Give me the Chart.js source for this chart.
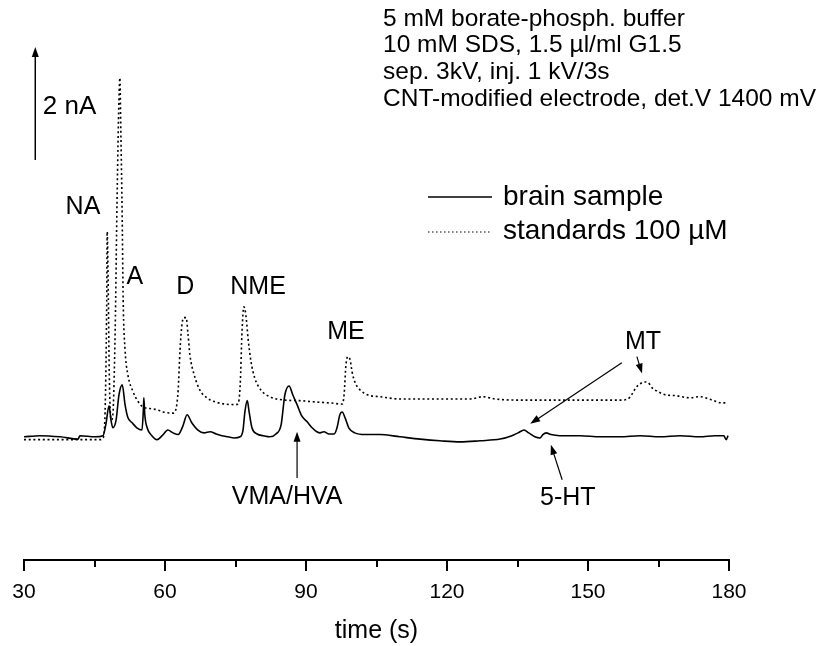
<!DOCTYPE html>
<html>
<head>
<meta charset="utf-8">
<script src="https://cdn.jsdelivr.net/npm/chart.js@4/dist/chart.umd.min.js"></script>
<style>
  body { margin: 0; background: #fff; }
  #wrap { width: 822px; height: 646px; }
</style>
</head>
<body>
<div id="wrap"><canvas id="ceChart" width="822" height="646"></canvas></div>
<script>
// migration time (s) and detector current (nA, brain baseline = 0)
const brainTime = [30.0, 33.4, 37.7, 41.5, 41.9, 45.1, 46.8, 47.4, 48.1, 48.5, 48.9, 49.6, 50.2, 50.9, 51.5, 52.1, 53.0, 54.0, 55.1, 55.4, 55.5, 55.7, 56.2, 57.2, 58.3, 59.4, 60.6, 61.7, 62.8, 63.8, 64.7, 65.7, 67.0, 68.3, 69.6, 70.9, 72.1, 73.4, 74.7, 76.0, 76.6, 77.0, 77.5, 77.9, 78.5, 79.6, 80.9, 82.3, 83.6, 84.7, 85.5, 86.4, 87.2, 88.1, 89.1, 90.2, 91.3, 92.3, 93.0, 93.8, 94.9, 96.0, 96.6, 97.2, 97.7, 98.3, 99.1, 100.4, 102.6, 105.7, 110.0, 114.3, 118.5, 122.8, 127.0, 131.3, 133.8, 135.1, 136.4, 137.4, 138.7, 139.8, 140.4, 141.1, 142.1, 144.0, 148.3, 152.6, 156.8, 161.1, 165.3, 169.6, 173.8, 177.0, 178.9, 179.4, 179.8];
const brainSignal = [0, 0.02, 0, -0.04, 0.02, 0, 0.02, 0.21, 0.55, 0.30, 0.16, 0.30, 0.74, 0.92, 0.57, 0.34, 0.25, 0.16, 0.12, 0.48, 0.69, 0.39, 0.16, 0.02, -0.05, 0.02, 0.12, 0.07, 0.04, 0.19, 0.39, 0.25, 0.12, 0.07, 0.09, 0.05, 0.02, 0, -0.02, 0, 0.12, 0.44, 0.64, 0.44, 0.16, 0.05, 0.02, 0, 0.05, 0.21, 0.74, 0.90, 0.74, 0.57, 0.37, 0.27, 0.16, 0.09, 0.07, 0.09, 0.05, 0.05, 0.16, 0.39, 0.44, 0.34, 0.16, 0.07, 0.04, 0.04, 0, -0.04, -0.07, -0.09, -0.07, -0.04, 0.02, 0.07, 0.12, 0.07, 0, -0.02, 0.04, 0.07, 0.04, 0.02, 0.02, 0, 0, 0.02, 0, 0.02, 0, 0.02, 0.02, -0.05, 0.02];

const stdTime = [30.0, 37.7, 46.2, 46.8, 47.2, 47.6, 47.7, 47.9, 48.1, 48.3, 48.6, 48.9, 49.4, 49.8, 50.2, 50.4, 50.6, 50.9, 51.1, 51.5, 52.1, 53.2, 54.3, 55.3, 56.8, 58.3, 59.6, 61.7, 62.3, 62.8, 63.2, 63.6, 64.0, 64.5, 64.9, 65.3, 66.2, 67.4, 68.9, 70.6, 72.8, 74.9, 75.5, 76.0, 76.4, 76.8, 77.2, 77.7, 78.3, 79.1, 80.4, 82.3, 85.5, 88.7, 91.5, 95.1, 97.7, 98.1, 98.5, 98.9, 99.4, 99.8, 100.4, 101.5, 103.2, 105.7, 110.0, 114.3, 120.6, 124.9, 127.7, 130.2, 135.5, 144.0, 150.4, 156.8, 158.5, 159.4, 160.2, 161.1, 162.1, 162.8, 163.6, 164.9, 166.6, 168.5, 171.7, 173.8, 176.4, 178.5, 179.8];
const stdSignal = [-0.05, -0.05, -0.05, -0.02, 0.30, 2.42, 3.63, 2.78, 1.36, 0.57, 0.30, 0.39, 1.89, 4.19, 5.96, 6.35, 5.43, 3.84, 2.42, 1.54, 1.10, 0.80, 0.62, 0.53, 0.50, 0.48, 0.44, 0.42, 0.48, 0.83, 1.54, 1.98, 2.11, 2.11, 1.81, 1.45, 1.10, 0.83, 0.69, 0.62, 0.58, 0.57, 0.58, 0.92, 1.89, 2.30, 2.16, 1.72, 1.33, 1.04, 0.83, 0.71, 0.65, 0.64, 0.62, 0.60, 0.58, 0.74, 1.27, 1.42, 1.36, 1.15, 0.97, 0.83, 0.74, 0.71, 0.67, 0.67, 0.67, 0.67, 0.71, 0.67, 0.65, 0.65, 0.65, 0.65, 0.67, 0.76, 0.87, 0.94, 0.97, 0.96, 0.87, 0.80, 0.74, 0.73, 0.69, 0.71, 0.65, 0.60, 0.60];

const xTicks = [30, 60, 90, 120, 150, 180];

// peak names: [text, time, current]
const peakLabels = [
    ['NA', 42.55, 4.07],
    ['A', 53.6, 2.83],
    ['D', 64.3, 2.65],
    ['NME', 79.8, 2.65],
    ['ME', 98.5, 1.86],
    ['MT', 161.7, 1.68],
    ['VMA/HVA', 86.0, -1.06],
    ['5-HT', 145.7, -1.08]
];

// arrows: [tail t, tail v, tip t, tip v]
const pointers = [
    [88.1, -0.73, 88.1, 0.09],
    [144.5, -0.76, 142.1, -0.14],
    [157.2, 1.31, 137.7, 0.23],
    [160.4, 1.42, 161.5, 1.12]
];

const conditions = [
    '5 mM borate-phosph. buffer',
    '10 mM SDS, 1.5 µl/ml G1.5',
    'sep. 3kV, inj. 1 kV/3s',
    'CNT-modified electrode, det.V 1400 mV'
];

const FONT = '"Liberation Sans", Arial, sans-serif';

function toPoints(ts, vs) {
    return ts.map((t, i) => ({x: t, y: vs[i]}));
}

function arrow(ctx, x1, y1, x2, y2, head) {
    const a = Math.atan2(y2 - y1, x2 - x1);
    ctx.beginPath();
    ctx.moveTo(x1, y1);
    ctx.lineTo(x2 - Math.cos(a) * head * 0.8, y2 - Math.sin(a) * head * 0.8);
    ctx.stroke();
    ctx.beginPath();
    ctx.moveTo(x2, y2);
    ctx.lineTo(x2 - head * Math.cos(a) + head * 0.35 * Math.sin(a), y2 - head * Math.sin(a) - head * 0.35 * Math.cos(a));
    ctx.lineTo(x2 - head * Math.cos(a) - head * 0.35 * Math.sin(a), y2 - head * Math.sin(a) + head * 0.35 * Math.cos(a));
    ctx.closePath();
    ctx.fill();
}

const decorations = {
    id: 'decorations',
    afterDraw(chart) {
        const {ctx, scales: {x, y}} = chart;
        const bottom = chart.chartArea.bottom;
        ctx.save();
        ctx.strokeStyle = '#000';
        ctx.fillStyle = '#000';

        // axis ticks, long at labelled values
        ctx.lineWidth = 2;
        x.ticks.forEach(tk => {
            const px = Math.round(x.getPixelForValue(tk.value));
            const len = tk.value % 30 === 0 ? 11 : 7;
            ctx.beginPath();
            ctx.moveTo(px, bottom);
            ctx.lineTo(px, bottom + len);
            ctx.stroke();
        });

        // 2 nA scale bar
        ctx.lineWidth = 1.5;
        arrow(ctx, x.getPixelForValue(32.4), y.getPixelForValue(4.9),
              x.getPixelForValue(32.4), y.getPixelForValue(6.9), 10);
        ctx.font = '26px ' + FONT;
        ctx.textBaseline = 'middle';
        ctx.textAlign = 'left';
        ctx.fillText('2 nA', x.getPixelForValue(34.0), y.getPixelForValue(5.84));

        // peak names
        ctx.font = '25px ' + FONT;
        ctx.textAlign = 'center';
        peakLabels.forEach(([txt, t, v]) => {
            ctx.fillText(txt, x.getPixelForValue(t), y.getPixelForValue(v));
        });

        ctx.lineWidth = 1.2;
        pointers.forEach(([t1, v1, t2, v2]) => {
            arrow(ctx, x.getPixelForValue(t1), y.getPixelForValue(v1),
                  x.getPixelForValue(t2), y.getPixelForValue(v2), 10);
        });

        // run conditions
        ctx.font = '24.5px ' + FONT;
        ctx.textAlign = 'left';
        conditions.forEach((line, i) => {
            ctx.fillText(line, 383, 19 + i * 26.7);
        });

        // legend
        ctx.lineWidth = 1.5;
        ctx.beginPath();
        ctx.moveTo(428, 197);
        ctx.lineTo(492, 197);
        ctx.stroke();
        ctx.lineWidth = 1.2;
        ctx.setLineDash([1.5, 2.5]);
        ctx.beginPath();
        ctx.moveTo(428, 232);
        ctx.lineTo(492, 232);
        ctx.stroke();
        ctx.setLineDash([]);
        ctx.font = '28px ' + FONT;
        ctx.fillText('brain sample', 503, 197);
        ctx.fillText('standards 100 µM', 503, 231);
        ctx.restore();
    }
};

new Chart(document.getElementById('ceChart'), {
    type: 'line',
    data: {
        datasets: [{
            label: 'brain sample',
            data: toPoints(brainTime, brainSignal),
            borderColor: '#000',
            borderWidth: 1.6,
            pointRadius: 0,
            cubicInterpolationMode: 'monotone'
        }, {
            label: 'standards 100 µM',
            data: toPoints(stdTime, stdSignal),
            borderColor: '#000',
            borderWidth: 1.6,
            borderDash: [2, 2.7],
            pointRadius: 0,
            cubicInterpolationMode: 'monotone'
        }]
    },
    options: {
        responsive: false,
        animation: false,
        events: [],
        layout: {padding: {left: 24, right: 93, top: 30, bottom: 0}},
        plugins: {legend: {display: false}, tooltip: {enabled: false}},
        scales: {
            x: {
                type: 'linear',
                min: 30,
                max: 180,
                grid: {display: false, drawTicks: false},
                border: {display: true, color: '#000', width: 2},
                afterFit: s => {
                    s.height = 86;
                    s.paddingLeft = 0;
                    s.paddingRight = 0;
                },
                afterBuildTicks: s => {
                    s.ticks = [];
                    for (let v = 30; v <= 180; v += 15) s.ticks.push({value: v});
                },
                ticks: {
                    autoSkip: false,
                    maxRotation: 0,
                    padding: 20,
                    color: '#000',
                    font: {family: FONT, size: 21},
                    callback: v => xTicks.includes(v) ? String(v) : ''
                },
                title: {
                    display: true,
                    text: 'time (s)',
                    color: '#000',
                    font: {family: FONT, size: 25},
                    padding: {top: 0, bottom: 0}
                }
            },
            y: {
                display: false,
                min: -2.18,
                max: 7.20
            }
        }
    },
    plugins: [decorations]
});
</script>
</body>
</html>
